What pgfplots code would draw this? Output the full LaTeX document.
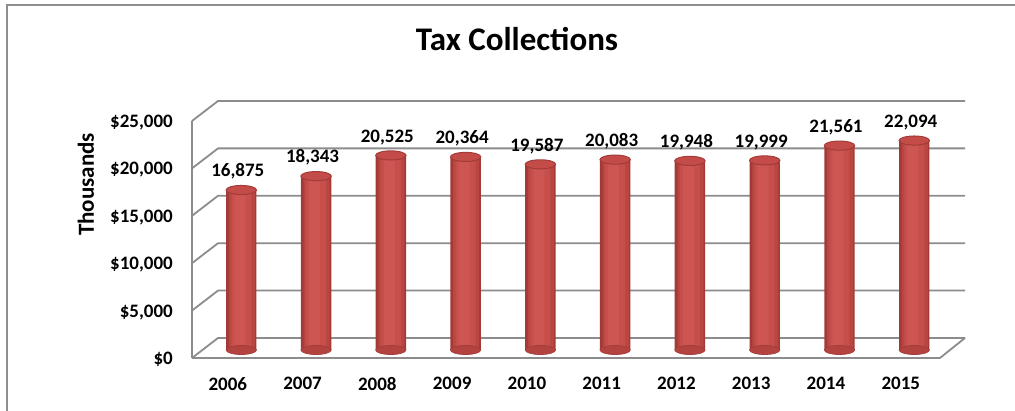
\documentclass[border=0pt]{standalone}
\usepackage{fontspec}
\setmainfont{Carlito}
\usepackage{pgfplots}
\usepackage{pgfplotstable}
\pgfplotsset{compat=1.18}
\definecolor{gridgray}{HTML}{8C8C8C}
\definecolor{framegray}{HTML}{8E8E8E}
\definecolor{barL1}{HTML}{A23B38}
\definecolor{barL2}{HTML}{B9463F}
\definecolor{barL3}{HTML}{C64F4B}
\definecolor{barL4}{HTML}{CD5652}
\definecolor{botFill}{HTML}{B3433F}
\definecolor{topFill}{HTML}{C44C48}
\definecolor{topEdge}{HTML}{A23B37}
\pgfplotstableread{
x y
0 16875
1 18343
2 20525
3 20364
4 19587
5 20083
6 19948
7 19999
8 21561
9 22094
}\taxdata
\begin{document}
\begin{tikzpicture}
\useasboundingbox (0,0) rectangle (1015bp,411bp);
\begin{scope}[x=1bp,y=-1bp,shift={(0,411bp)}]
  % outer frame (top and left visible)
  \draw[framegray, line width=2bp] (7,420) -- (7,5) -- (1025,5);
  % back wall and left wall gridlines (every $5,000)
  \foreach \k in {0,1,2,3,4,5} {
    \pgfmathsetmacro\yb{338-\k*47.4}
    \draw[gridgray, line width=1.8bp] (192,{\yb+20}) -- (218,\yb) -- (965,\yb);
  }
  % front-left vertical edge
  \draw[gridgray, line width=1.8bp] (192,358) -- (192,121);
  % floor
  \draw[gridgray, line width=1.8bp] (192,358) -- (940,358) -- (965,338);
\end{scope}
\begin{axis}[
  at={(202.4bp,61bp)}, anchor=south west,
  scale only axis, width=747bp, height=237bp,
  xmin=-0.52, xmax=9.47, ymin=0, ymax=25000,
  axis line style={draw=none}, major tick length=0pt,
  clip=false, scaled y ticks=false,
  xtick={0,1,2,3,4,5,6,7,8,9},
  xticklabels={2006,2007,2008,2009,2010,2011,2012,2013,2014,2015},
  ytick={0,5000,10000,15000,20000,25000},
  yticklabels={{\$0},{\$5,000},{\$10,000},{\$15,000},{\$20,000},{\$25,000}},
  every tick label/.append style={font=\bfseries\fontsize{19bp}{21bp}\selectfont, inner sep=0pt},
  xticklabel style={anchor=north, yshift=-27bp, xshift=-13.5bp},
  yticklabel style={anchor=east, xshift=-29.4bp, yshift=-9.5bp},
  ylabel={Thousands},
  every axis y label/.style={at={(axis description cs:-0.1558,0.698)}, rotate=90, anchor=center, font=\bfseries\fontsize{23bp}{25bp}\selectfont},
  title={Tax Collections},
  title style={at={(axis description cs:0.4212,1.2405)}, anchor=base, font=\bfseries\fontsize{33bp}{35bp}\selectfont},
  /pgf/number format/assume math mode=true,
]
% bottom ellipses of cylinders
\addplot[only marks, mark=*, mark size=15.2bp, mark options={yscale=0.3, fill=botFill, draw=barL1, line width=0.6bp}]
  table[x=x, y expr=0] {\taxdata};
% cylinder bodies, in layers for a rounded look
\addplot[ybar, bar width=30.4bp, bar shift=0pt, draw=none, fill=barL1]
  table[x=x, y=y] {\taxdata};
\addplot[ybar, bar width=26bp, bar shift=0.6bp, draw=none, fill=barL2]
  table[x=x, y=y] {\taxdata};
\addplot[ybar, bar width=20bp, bar shift=0pt, draw=none, fill=barL3]
  table[x=x, y=y] {\taxdata};
\addplot[ybar, bar width=11bp, bar shift=-1.5bp, draw=none, fill=barL4]
  table[x=x, y=y] {\taxdata};
% top ellipses with value labels
\addplot[only marks, mark=*, mark size=15.2bp, mark options={yscale=0.3, fill=topFill, draw=topEdge, line width=1bp},
  point meta=y,
  nodes near coords={\pgfmathprintnumber[fixed, precision=0, 1000 sep={,}]{\pgfplotspointmeta}},
  every node near coord/.append style={anchor=base, yshift=13.2bp, xshift=-3.5bp, inner sep=0pt, font=\bfseries\fontsize{19bp}{21bp}\selectfont, text=black}]
  table[x=x, y=y] {\taxdata};
\end{axis}
\end{tikzpicture}
\end{document}
